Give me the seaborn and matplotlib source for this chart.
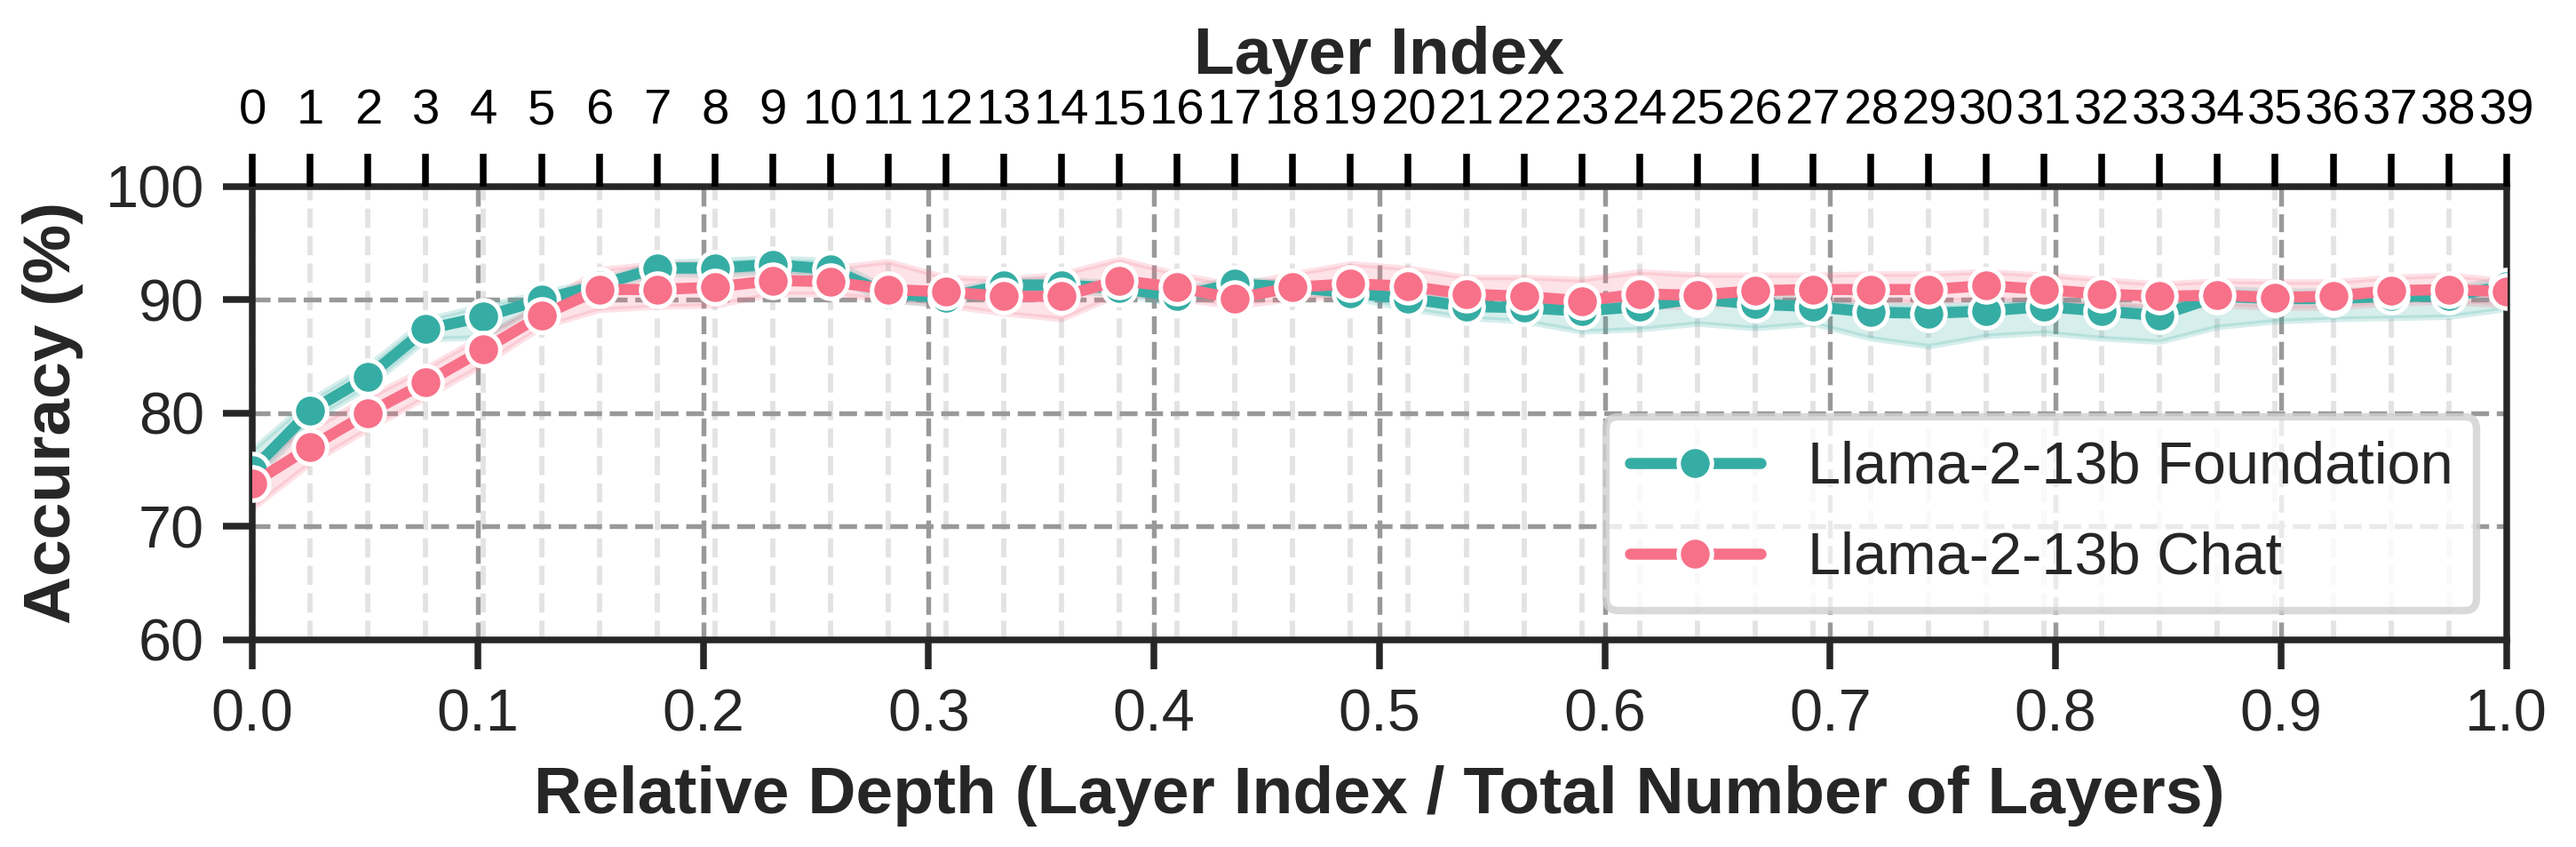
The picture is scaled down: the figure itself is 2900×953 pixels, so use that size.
import numpy as np
import pandas as pd
import matplotlib
matplotlib.use("Agg")
import matplotlib.pyplot as plt
import seaborn as sns

# layer-wise probe accuracy (%), 40 layers
layers = list(range(40))
foundation = [75.0, 80.2, 83.2, 87.4, 88.5, 90.0, 91.3, 92.8, 92.8, 93.1,
              92.7, 90.5, 90.2, 91.3, 91.3, 91.0, 90.3, 91.4, 91.1, 90.6,
              90.1, 89.4, 89.3, 89.0, 89.4, 90.1, 89.6, 89.4, 88.9, 88.8,
              89.0, 89.4, 89.0, 88.6, 90.3, 90.1, 90.1, 90.3, 90.3, 91.2]
foundation_lo = [74.0, 79.3, 82.3, 86.5, 86.7, 89.5, 90.8, 92.3, 92.2, 92.5,
                 92.0, 89.9, 89.6, 90.8, 90.8, 90.5, 89.6, 90.9, 90.7, 90.2,
                 89.2, 88.4, 88.1, 87.2, 87.4, 87.9, 87.5, 87.9, 86.6, 85.9,
                 86.8, 87.1, 86.6, 86.3, 87.6, 88.1, 88.3, 88.4, 88.5, 89.2]
foundation_hi = [76.8, 81.2, 84.2, 88.3, 89.5, 90.6, 91.8, 93.3, 93.5, 93.7,
                 93.5, 91.0, 90.8, 91.8, 91.8, 91.5, 90.9, 91.9, 91.5, 91.1,
                 90.7, 90.1, 90.0, 89.7, 90.1, 90.8, 90.3, 90.1, 89.6, 89.5,
                 89.7, 90.1, 89.7, 89.3, 91.0, 90.8, 90.8, 91.0, 91.0, 91.9]
chat = [73.8, 77.0, 80.0, 82.7, 85.6, 88.6, 90.9, 90.9, 91.1, 91.7,
        91.6, 90.9, 90.7, 90.3, 90.3, 91.7, 91.1, 90.1, 91.1, 91.4,
        91.2, 90.5, 90.3, 89.9, 90.5, 90.4, 90.8, 90.9, 90.9, 90.9,
        91.25, 90.9, 90.5, 90.3, 90.4, 90.2, 90.3, 90.8, 90.9, 90.7]
chat_lo = [71.6, 75.6, 78.6, 81.4, 84.3, 87.6, 89.1, 89.4, 89.5, 90.5,
           90.5, 90.0, 89.5, 88.8, 88.3, 90.5, 90.1, 89.4, 90.1, 90.3,
           90.1, 89.5, 89.3, 88.8, 89.4, 89.4, 89.8, 89.9, 89.9, 89.8,
           90.1, 89.8, 89.5, 89.4, 89.5, 89.3, 89.3, 89.7, 89.8, 89.5]
chat_hi = [76.0, 78.6, 81.4, 84.0, 86.9, 89.6, 92.7, 93.2, 93.2, 92.9,
           92.8, 93.4, 92.0, 91.8, 92.3, 93.6, 92.3, 91.3, 92.3, 93.2,
           92.8, 92.0, 92.0, 91.8, 92.5, 92.2, 92.2, 92.2, 92.3, 92.3,
           92.5, 92.2, 91.8, 91.4, 91.7, 91.6, 91.6, 92.0, 92.2, 91.7]

model_names = ["Llama-2-13b Foundation", "Llama-2-13b Chat"]
model_colors = ["#36ada4", "#f77189"]
n_layers = len(layers)
depth = [l / (n_layers - 1) for l in layers]

df = pd.concat([
    pd.DataFrame({"depth": depth, "acc": foundation, "lo": foundation_lo,
                  "hi": foundation_hi, "model": model_names[0]}),
    pd.DataFrame({"depth": depth, "acc": chat, "lo": chat_lo,
                  "hi": chat_hi, "model": model_names[1]}),
])

sns.set_style("ticks")
plt.rcParams["font.family"] = ["Liberation Sans", "DejaVu Sans"]

fig, ax = plt.subplots(figsize=(9.6667, 3.1767), dpi=300)
fig.subplots_adjust(left=0.098, right=0.973, top=0.78, bottom=0.2445)

# shaded bands
for name, col in zip(model_names, model_colors):
    d = df[df["model"] == name]
    ax.fill_between(d["depth"], d["lo"], d["hi"], color=col, alpha=0.2,
                    lw=1.5, zorder=2)

sns.lineplot(data=df, x="depth", y="acc", hue="model", hue_order=model_names,
             palette=model_colors, marker="o", markersize=9,
             markeredgecolor="white", markeredgewidth=1.2, linewidth=3,
             errorbar=None, ax=ax, zorder=3)

ax.set_xlim(0, 1)
ax.set_ylim(60, 100)
ax.set_xticks(np.arange(0, 1.01, 0.1))
ax.set_yticks([60, 70, 80, 90, 100])
ax.set_xticks(depth, minor=True)
ax.tick_params(which="minor", length=0)
ax.tick_params(which="major", labelsize=16, length=8, width=1.8, pad=5)
ax.grid(which="minor", axis="x", color="#e3e3e3", ls="--", lw=1.4, zorder=0)
ax.grid(which="major", color="#999999", ls="--", lw=1.3, zorder=1)
ax.set_axisbelow(True)
for sp in ax.spines.values():
    sp.set_linewidth(1.8)
    sp.set_color("#262626")

ax.set_xlabel("Relative Depth (Layer Index / Total Number of Layers)",
              fontsize=18, weight="bold", labelpad=6)
ax.set_ylabel("Accuracy (%)", fontsize=18, weight="bold", labelpad=6)

ax.legend(loc="lower right", fontsize=16, frameon=True, fancybox=True,
          framealpha=0.8, edgecolor="#d0d0d0", handlelength=2.2,
          labelspacing=0.6)
ax.get_legend().get_frame().set_linewidth(2)

ax2 = ax.twiny()
ax2.set_xlim(0, 1)
ax2.set_xticks(depth)
ax2.set_xticklabels([str(l) for l in layers], fontsize=13.5, color="black")
ax2.tick_params(axis="x", length=9, width=1.8, color="black", pad=5)
ax2.set_xlabel("Layer Index", fontsize=18, weight="bold", labelpad=4)
for sp in ax2.spines.values():
    sp.set_visible(False)

fig.savefig("out.png", dpi=300)
